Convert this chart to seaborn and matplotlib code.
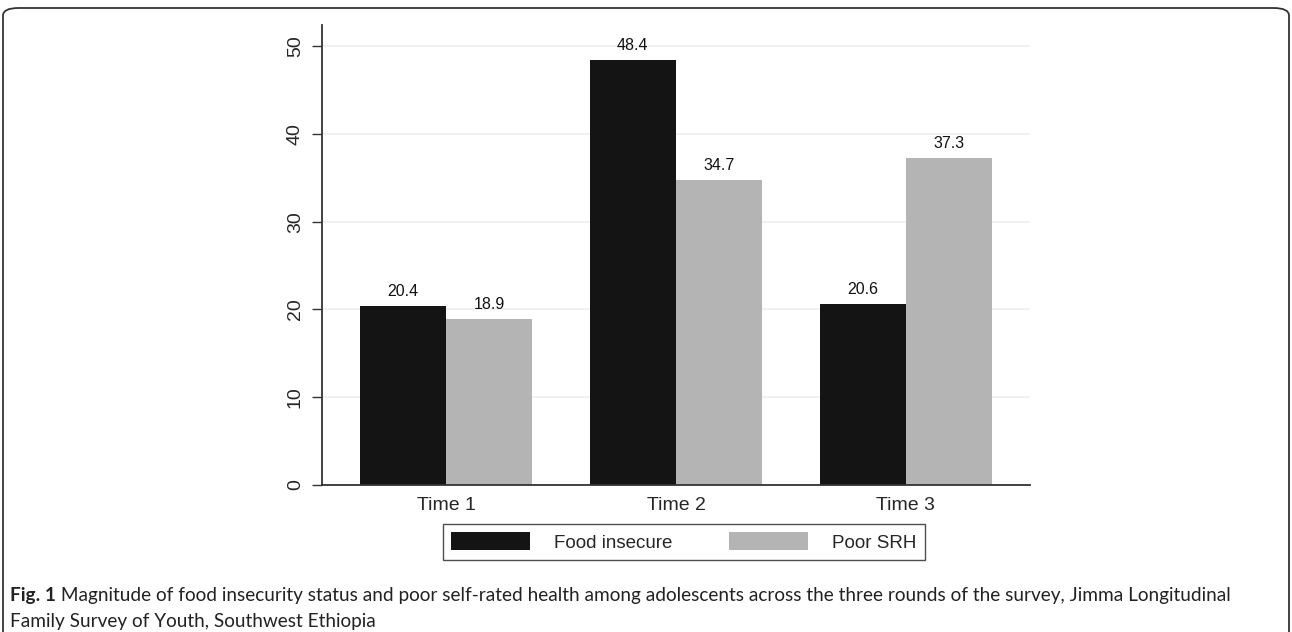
import pandas as pd
import matplotlib
matplotlib.use("Agg")
import matplotlib.pyplot as plt
import seaborn as sns
from matplotlib.patches import FancyBboxPatch

# Chart data
rounds = ["Time 1", "Time 2", "Time 3"]
food_insecure = [20.4, 48.4, 20.6]
poor_srh = [18.9, 34.7, 37.3]
series_names = ["Food insecure", "Poor SRH"]
y_ticks = [0, 10, 20, 30, 40, 50]

caption_bold = "Fig. 1"
caption_line1 = (" Magnitude of food insecurity status and poor self-rated health among adolescents "
                 "across the three rounds of the survey, Jimma Longitudinal")
caption_line2 = "Family Survey of Youth, Southwest Ethiopia"

df = pd.DataFrame({
    "round": rounds * 2,
    "value": food_insecure + poor_srh,
    "series": [series_names[0]] * 3 + [series_names[1]] * 3,
})

sns.set_style("white")
plt.rcParams["font.family"] = ["Liberation Sans", "DejaVu Sans"]

fig = plt.figure(figsize=(12.92, 6.32), dpi=100)
ax = fig.add_axes([0.2492, 0.2326, 0.548, 0.7278])

palette = {series_names[0]: "#141414", series_names[1]: "#b4b4b4"}
sns.barplot(data=df, x="round", y="value", hue="series", palette=palette,
            width=0.75, gap=0, linewidth=0, saturation=1, ax=ax, legend=False)

for cont in ax.containers:
    ax.bar_label(cont, fmt="%.1f", padding=5, fontsize=11.5, color="#111111")

ax.set_xlim(-0.54, 2.54)
ax.set_ylim(0, 52.4)
ax.set_yticks(y_ticks)
ax.set_yticklabels([str(t) for t in y_ticks], rotation=90, va="center", fontsize=14)
ax.tick_params(axis="x", length=0, labelsize=14, pad=9)
ax.tick_params(axis="y", length=7, width=1, color="#333333", left=True, pad=6)
ax.set_xlabel("")
ax.set_ylabel("")
ax.grid(axis="y", color="#eeeeee", linewidth=1.2)
ax.set_axisbelow(True)
for side in ["top", "right"]:
    ax.spines[side].set_visible(False)
for side in ["left", "bottom"]:
    ax.spines[side].set_color("#333333")
    ax.spines[side].set_linewidth(1.3)

# legend below the plot
handles = [plt.Rectangle((0, 0), 1, 1, facecolor=palette[n], edgecolor="none") for n in series_names]
leg = fig.legend(handles, series_names, loc="center", bbox_to_anchor=(0.5294, 1 - 542 / 632),
                 ncol=2, fontsize=13.5, frameon=True, fancybox=False, handlelength=4.2,
                 handleheight=1.1, handletextpad=1.3, columnspacing=3.0, borderpad=0.45,
                 edgecolor="#222222")
leg.get_frame().set_linewidth(1.0)

# caption
cap_font = ["Lato", "DejaVu Sans"]
t1 = fig.text(10 / 1292, 1 - 596 / 632, caption_bold, fontsize=13.7, fontweight="bold",
              family=cap_font, va="center", ha="left", color="#222222")
fig.canvas.draw()
bb = t1.get_window_extent(fig.canvas.get_renderer())
fig.text(bb.x1 / 1292, 1 - 596 / 632, caption_line1, fontsize=13.7,
         family=cap_font, va="center", ha="left", color="#222222")
fig.text(10 / 1292, 1 - 622 / 632, caption_line2, fontsize=13.7,
         family=cap_font, va="center", ha="left", color="#222222")

# rounded frame round the figure, open at the bottom
frame = FancyBboxPatch((3 / 1292, -0.05), 1286 / 1292, 0.05 + 624 / 632,
                       boxstyle="round,pad=0,rounding_size=0.012", transform=fig.transFigure,
                       facecolor="none", edgecolor="#333333", linewidth=1.3)
fig.add_artist(frame)

fig.savefig("out.png", dpi=100)
